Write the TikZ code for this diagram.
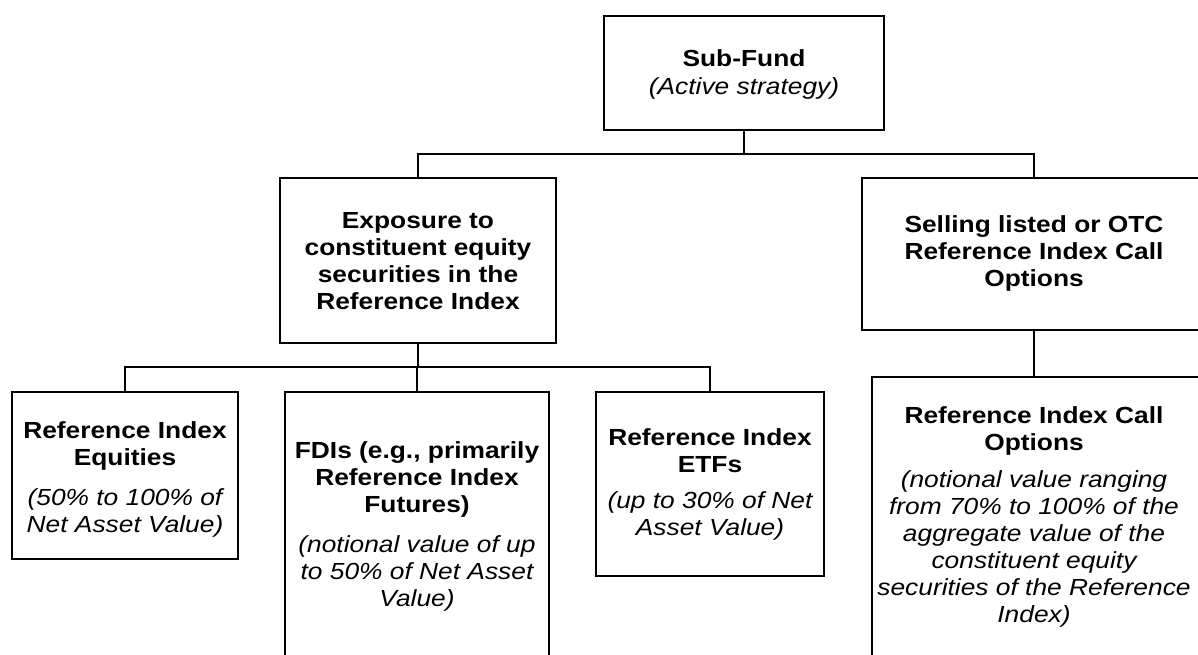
\documentclass[tikz,border=0pt]{standalone}
\usepackage{fontspec}
\setmainfont{Liberation Sans}[FakeStretch=1.13]
\newcommand\diafs{\fontsize{23.3}{27}\selectfont}
\begin{document}
\begin{tikzpicture}[x=1pt,y=-1pt,
  box/.style={draw=black, line width=2pt, fill=white, inner sep=0pt, outer sep=0pt, anchor=north west},
  txt/.style={anchor=base, inner sep=0pt, font=\diafs},
  conn/.style={draw=black, line width=2pt}]
\clip (0,0) rectangle (1198,655);
\fill[white] (0,0) rectangle (1198,655);
% boxes
\node[box, minimum width=280pt, minimum height=114pt] (sub)  at (604,16)  {};
\node[box, minimum width=276pt, minimum height=165pt] (expo) at (280,178) {};
\node[box, minimum width=344pt, minimum height=152pt] (sell) at (862,178) {};
\node[box, minimum width=226pt, minimum height=167pt] (equ)  at (12,392)  {};
\node[box, minimum width=264pt, minimum height=280pt] (fdi)  at (285,392) {};
\node[box, minimum width=228pt, minimum height=184pt] (etf)  at (596,392) {};
\node[box, minimum width=328pt, minimum height=295pt] (call) at (872,377) {};
% texts
\node[txt] (subT) at (744,67) {\begin{tabular}[t]{@{}c@{}}\textbf{Sub-Fund}\\[1pt]\textit{(Active strategy)}\end{tabular}};
\node[txt] (expoT) at (418,228) {\begin{tabular}[t]{@{}c@{}}\bfseries Exposure to\\\bfseries constituent equity\\\bfseries securities in the\\\bfseries Reference Index\end{tabular}};
\node[txt] (sellT) at (1034,232) {\begin{tabular}[t]{@{}c@{}}\bfseries Selling listed or OTC\\\bfseries Reference Index Call\\\bfseries Options\end{tabular}};
\node[txt] (equT) at (125,438) {\begin{tabular}[t]{@{}c@{}}\bfseries Reference Index\\\bfseries Equities\\[13pt]\itshape (50\% to 100\% of\\\itshape Net Asset Value)\end{tabular}};
\node[txt] (fdiT) at (417,458) {\begin{tabular}[t]{@{}c@{}}\bfseries FDIs (e.g., primarily\\\bfseries Reference Index\\\bfseries Futures)\\[13pt]\itshape (notional value of up\\\itshape to 50\% of Net Asset\\\itshape Value)\end{tabular}};
\node[txt] (etfT) at (710,445) {\begin{tabular}[t]{@{}c@{}}\bfseries Reference Index\\\bfseries ETFs\\[9pt]\itshape (up to 30\% of Net\\\itshape Asset Value)\end{tabular}};
\node[txt] (callT) at (1034,423) {\begin{tabular}[t]{@{}c@{}}\bfseries Reference Index Call\\\bfseries Options\\[10pt]\itshape (notional value ranging\\\itshape from 70\% to 100\% of the\\\itshape aggregate value of the\\\itshape constituent equity\\\itshape securities of the Reference\\\itshape Index)\end{tabular}};
% connectors
\coordinate (j1) at (744,154);
\coordinate (j2) at (418,367);
\path[conn] (sub.south) -- (j1);
\path[conn] (expo.north) |- (j1) -| (sell.north);
\path[conn] (expo.south) -- (j2);
\path[conn] (equ.north) |- (j2) -| (etf.north);
\path[conn] (fdi.north) -- (fdi.north |- j2);
\path[conn] (sell.south) -- (sell.south |- call.north);
\end{tikzpicture}
\end{document}
